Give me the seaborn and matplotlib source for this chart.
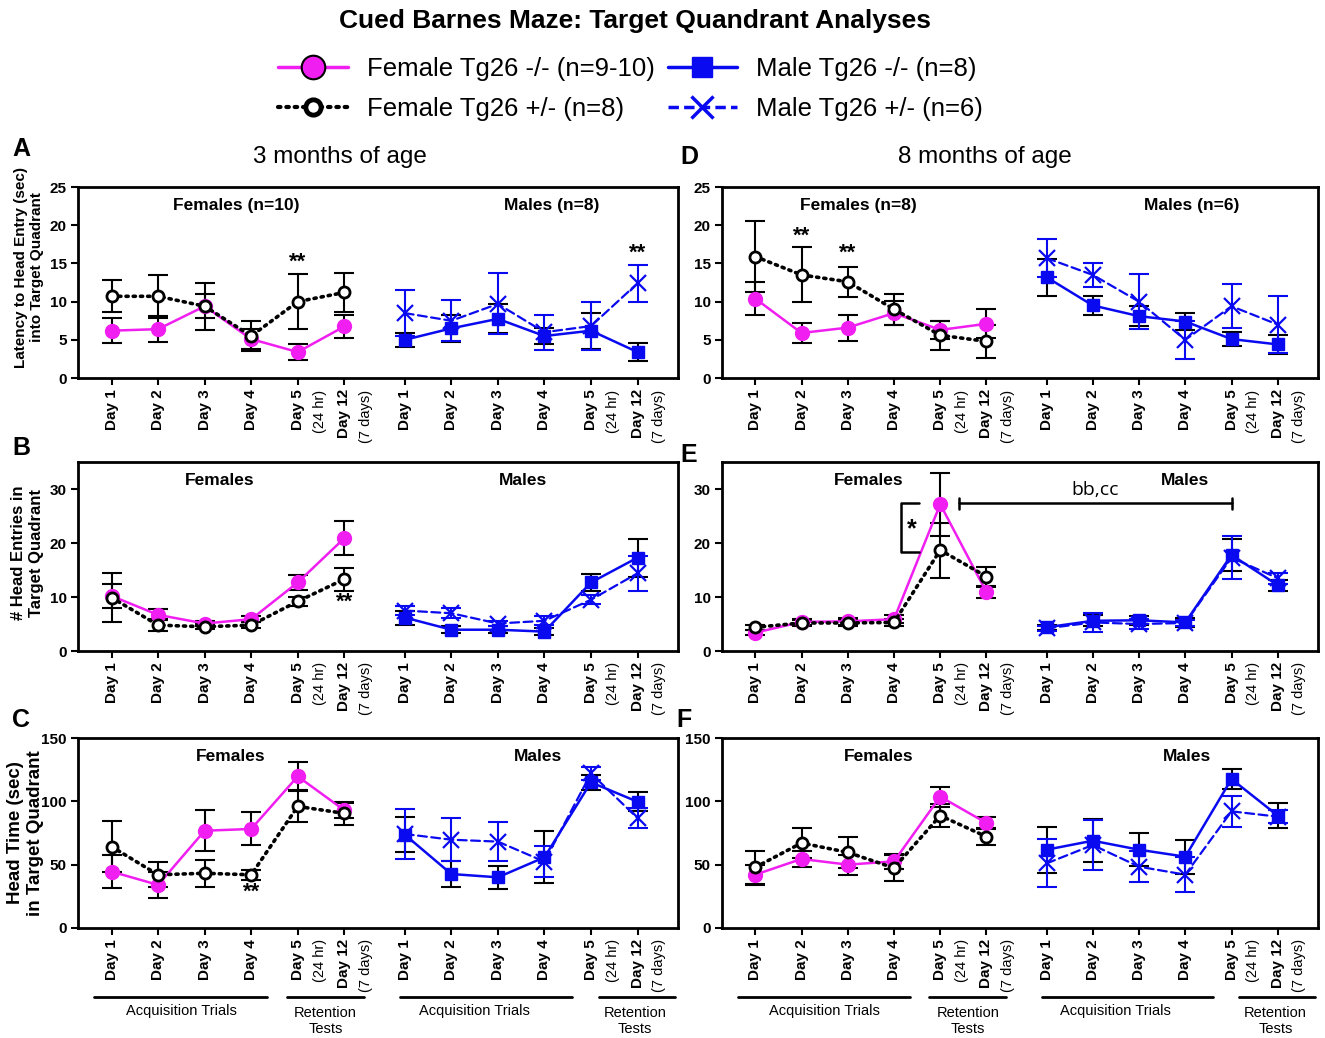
import numpy as np
import pandas as pd
import matplotlib
matplotlib.use("Agg")
import matplotlib.pyplot as plt
import matplotlib.transforms as mtransforms
from matplotlib.lines import Line2D
import seaborn as sns

sns.set_theme(style="ticks")
plt.rcParams['font.family'] = ['Liberation Sans', 'DejaVu Sans']
plt.rcParams.update({'text.color': 'black', 'axes.labelcolor': 'black',
                     'xtick.color': 'black', 'ytick.color': 'black'})

# ---------------- data ----------------
days = ['Day 1', 'Day 2', 'Day 3', 'Day 4', 'Day 5', 'Day 12']
day_notes = ['', '', '', '', '(24 hr)', '(7 days)']
groups = ['F -/-', 'F +/-', 'M -/-', 'M +/-']
legend_labels = ['Female Tg26 -/- (n=9-10)', 'Female Tg26 +/- (n=8)',
                 'Male Tg26 -/- (n=8)', 'Male Tg26 +/- (n=6)']

# Panel A: latency, 3 months
A_f_ko = [6.2, 6.4, 9.4, 5.1, 3.4, 6.75];   A_f_ko_sem = [1.6, 1.7, 1.6, 1.3, 1.1, 1.5]
A_f_het = [10.7, 10.7, 9.4, 5.5, 10.0, 11.2]; A_f_het_sem = [2.1, 2.8, 3.1, 2.0, 3.6, 2.6]
A_m_ko = [5.0, 6.5, 7.75, 5.5, 6.2, 3.4];   A_m_ko_sem = [0.95, 1.8, 1.9, 1.0, 2.35, 1.15]
A_m_het = [8.5, 7.5, 9.7, 6.0, 6.8, 12.4];  A_m_het_sem = [3.0, 2.7, 4.0, 2.3, 3.1, 2.4]
# Panel D: latency, 8 months
D_f_ko = [10.4, 5.9, 6.6, 8.5, 6.3, 7.1];   D_f_ko_sem = [2.2, 1.3, 1.7, 1.6, 1.2, 1.9]
D_f_het = [15.9, 13.5, 12.6, 9.0, 5.6, 4.8]; D_f_het_sem = [4.6, 3.6, 2.0, 2.0, 1.9, 2.2]
D_m_ko = [13.2, 9.5, 8.1, 7.4, 5.1, 4.4];   D_m_ko_sem = [2.4, 1.2, 1.3, 1.1, 0.9, 1.2]
D_m_het = [15.7, 13.5, 10.0, 5.0, 9.4, 7.0]; D_m_het_sem = [2.5, 1.6, 3.6, 2.5, 2.85, 3.7]
# Panel B: head entries, 3 months
B_f_ko = [10.2, 6.7, 5.1, 5.9, 12.7, 20.9];  B_f_ko_sem = [2.2, 1.0, 0.5, 0.6, 1.3, 3.2]
B_f_het = [9.9, 4.8, 4.5, 4.8, 9.2, 13.3];   B_f_het_sem = [4.5, 1.1, 0.5, 0.6, 0.8, 2.1]
B_m_ko = [6.2, 3.95, 3.95, 3.6, 12.7, 17.3]; B_m_ko_sem = [1.3, 0.7, 0.6, 0.7, 1.5, 3.5]
B_m_het = [7.5, 7.0, 5.1, 5.6, 9.5, 14.4];   B_m_het_sem = [0.8, 0.9, 0.5, 0.8, 0.8, 3.2]
# Panel E: head entries, 8 months
E_f_ko = [3.4, 5.4, 5.5, 5.9, 27.2, 10.9];   E_f_ko_sem = [0.5, 0.5, 0.6, 0.7, 5.8, 1.0]
E_f_het = [4.4, 5.2, 5.2, 5.3, 18.7, 13.8];  E_f_het_sem = [0.5, 0.5, 0.5, 0.6, 5.1, 1.7]
E_m_ko = [4.4, 5.6, 5.7, 5.3, 17.8, 12.2];   E_m_ko_sem = [0.5, 1.0, 0.8, 0.8, 3.0, 1.0]
E_m_het = [4.2, 5.3, 5.0, 5.2, 17.3, 13.5];  E_m_het_sem = [0.5, 1.8, 1.0, 0.6, 4.0, 1.0]
# Panel C: head time, 3 months
C_f_ko = [44.5, 34.0, 76.8, 78.2, 119.7, 93.0]; C_f_ko_sem = [13, 10, 16, 13, 11, 6]
C_f_het = [64.2, 42.0, 43.2, 42.0, 96.0, 90.5]; C_f_het_sem = [20, 10, 10.5, 4, 12, 9]
C_m_ko = [73.7, 42.6, 40.0, 55.8, 115.0, 99.7]; C_m_ko_sem = [14, 10.5, 9, 20.5, 6, 7.5]
C_m_het = [74.2, 69.7, 68.2, 52.4, 122.0, 86.8]; C_m_het_sem = [20, 17, 15.5, 12, 5, 8]
# Panel F: head time, 8 months
F_f_ko = [42.1, 54.5, 50.0, 52.6, 103.7, 82.9]; F_f_ko_sem = [8, 6, 8, 6, 8, 5]
F_f_het = [47.9, 67.1, 59.7, 47.4, 88.7, 72.1]; F_f_het_sem = [13, 12, 12, 10.5, 9, 6.5]
F_m_ko = [61.8, 68.9, 61.8, 56.3, 117.6, 88.7]; F_m_ko_sem = [18, 17, 13, 13.5, 8, 10]
F_m_het = [51.0, 65.5, 48.4, 42.1, 92.1, 87.9]; F_m_het_sem = [19, 20, 12, 14, 12.5, 5]

panels = {
    'A': [(A_f_ko, A_f_ko_sem), (A_f_het, A_f_het_sem), (A_m_ko, A_m_ko_sem), (A_m_het, A_m_het_sem)],
    'B': [(B_f_ko, B_f_ko_sem), (B_f_het, B_f_het_sem), (B_m_ko, B_m_ko_sem), (B_m_het, B_m_het_sem)],
    'C': [(C_f_ko, C_f_ko_sem), (C_f_het, C_f_het_sem), (C_m_ko, C_m_ko_sem), (C_m_het, C_m_het_sem)],
    'D': [(D_f_ko, D_f_ko_sem), (D_f_het, D_f_het_sem), (D_m_ko, D_m_ko_sem), (D_m_het, D_m_het_sem)],
    'E': [(E_f_ko, E_f_ko_sem), (E_f_het, E_f_het_sem), (E_m_ko, E_m_ko_sem), (E_m_het, E_m_het_sem)],
    'F': [(F_f_ko, F_f_ko_sem), (F_f_het, F_f_het_sem), (F_m_ko, F_m_ko_sem), (F_m_het, F_m_het_sem)],
}

male_offset = 6.3
rows = []
for p, series in panels.items():
    for g, (m, s) in zip(groups, series):
        off = male_offset if g.startswith('M') else 0.0
        for i, (mv, sv) in enumerate(zip(m, s)):
            rows.append(dict(panel=p, group=g, pos=i + off, mean=mv, sem=sv))
df = pd.DataFrame(rows)

MAG = '#F01EF0'
BLUE = '#0A0AF0'
styles = {
    'F -/-': dict(color=MAG, marker='o', markersize=10, markerfacecolor=MAG, markeredgecolor=MAG,
                  markeredgewidth=1, linestyle='-', linewidth=1.8, ecolor='black', z=3),
    'F +/-': dict(color='black', marker='o', markersize=8, markerfacecolor='white', markeredgecolor='black',
                  markeredgewidth=2, linestyle=(0, (0.6, 1.4)), linewidth=2.6, ecolor='black', z=4),
    'M -/-': dict(color=BLUE, marker='s', markersize=9, markerfacecolor=BLUE, markeredgecolor=BLUE,
                  markeredgewidth=1, linestyle='-', linewidth=1.8, ecolor='black', z=3),
    'M +/-': dict(color=BLUE, marker='x', markersize=11, markerfacecolor=BLUE, markeredgecolor=BLUE,
                  markeredgewidth=1.6, linestyle=(0, (4, 2)), linewidth=1.6, ecolor=BLUE, z=4),
}

# ---------------- layout ----------------
fig = plt.figure(figsize=(13.25, 10.38), dpi=100)
L1, W1, L2, W2 = 0.0589, 0.4528, 0.5449, 0.4498
axpos = {
    'A': [L1, 0.6358, W1, 0.184], 'D': [L2, 0.6358, W2, 0.184],
    'B': [L1, 0.3728, W1, 0.182], 'E': [L2, 0.3728, W2, 0.182],
    'C': [L1, 0.1060, W1, 0.183], 'F': [L2, 0.1060, W2, 0.183],
}
ylims = {'A': (0, 25), 'D': (0, 25), 'B': (0, 35), 'E': (0, 35), 'C': (0, 150), 'F': (0, 150)}
yticks = {'A': [0, 5, 10, 15, 20, 25], 'D': [0, 5, 10, 15, 20, 25],
          'B': [0, 10, 20, 30], 'E': [0, 10, 20, 30],
          'C': [0, 50, 100, 150], 'F': [0, 50, 100, 150]}
ylabels = {'A': 'Latency to Head Entry (sec)\ninto Target Quadrant',
           'B': '# Head Entries in\nTarget Quadrant',
           'C': 'Head Time (sec)\nin Target Quadrant'}
ylabel_size = {'A': 11, 'B': 12, 'C': 13.5}
ylabel_y = {'A': 0.58, 'B': 0.52, 'C': 0.5}
group_titles = {'A': ('Females (n=10)', 'Males (n=8)'), 'D': ('Females (n=8)', 'Males (n=6)'),
                'B': ('Females', 'Males'), 'E': ('Females', 'Males'),
                'C': ('Females', 'Males'), 'F': ('Females', 'Males')}
group_title_x = {'A': (2.68, 9.46), 'D': (2.22, 9.44), 'B': (2.33, 8.83),
                 'E': (2.46, 9.3), 'C': (2.55, 9.16), 'F': (2.66, 9.33)}
stars = {'A': [(4, 15.1), (6.3 + 5, 16.4)], 'D': [(1, 18.6), (2, 16.4)],
         'B': [(5, 9.0)], 'C': [(3, 28.0)], 'E': [], 'F': []}

positions = [i for i in range(6)] + [i + male_offset for i in range(6)]
tick_labels = days + days

axes = {}
for p in ['A', 'B', 'C', 'D', 'E', 'F']:
    ax = fig.add_axes(axpos[p])
    axes[p] = ax
    sub = df[df.panel == p]
    for g in groups:
        st = styles[g]
        d = sub[sub.group == g]
        ax.errorbar(d['pos'], d['mean'], yerr=d['sem'], fmt='none', ecolor=st['ecolor'],
                    elinewidth=1.5, capsize=7, capthick=1.5, zorder=2)
        kw = {k: v for k, v in st.items() if k not in ('ecolor', 'z')}
        sns.lineplot(data=d, x='pos', y='mean', ax=ax, legend=False, zorder=st['z'],
                     dash_capstyle='round', **kw)
    ax.set_xlim(-0.72, 12.17)
    ax.set_ylim(*ylims[p])
    ax.set_yticks(yticks[p])
    ax.set_yticklabels([str(t) for t in yticks[p]], fontweight='bold', fontsize=11)
    ax.set_xticks(positions)
    ax.set_xticklabels(tick_labels, rotation=90, fontweight='bold', fontsize=11)
    ax.tick_params(axis='both', direction='out', length=5, width=1.5, color='black', pad=3)
    for sp in ax.spines.values():
        sp.set_linewidth(2)
        sp.set_color('black')
    ax.set_xlabel('')
    if p in ylabels:
        ax.set_ylabel(ylabels[p], fontweight='bold', fontsize=ylabel_size[p])
        ax.yaxis.set_label_coords(-0.057, ylabel_y[p])
    else:
        ax.set_ylabel('')
    trans = mtransforms.blended_transform_factory(ax.transData, ax.transAxes)
    for pos, note in zip(positions, day_notes + day_notes):
        if note:
            ax.text(pos + 0.47, -0.06, note, rotation=90, ha='center', va='top',
                    fontsize=10.5, transform=trans)
    ft, mt = group_titles[p]
    fx, mx = group_title_x[p]
    ax.text(fx, 0.905, ft, ha='center', va='center', fontweight='bold', fontsize=12.5, transform=trans)
    ax.text(mx, 0.905, mt, ha='center', va='center', fontweight='bold', fontsize=12.5, transform=trans)
    for sx, sy in stars[p]:
        ax.text(sx, sy, '**', ha='center', va='center', fontweight='bold', fontsize=16)
    if p in ('C', 'F'):
        for (x0, x1) in [(-0.37, 3.35), (3.76, 5.42), (6.2, 9.9), (10.47, 12.1)]:
            ax.plot([x0, x1], [-0.363, -0.363], color='black', lw=2, transform=trans, clip_on=False)
        ax.text(1.5, -0.437, 'Acquisition Trials', ha='center', va='center', fontsize=10.5, transform=trans)
        ax.text(4.6, -0.49, 'Retention\nTests', ha='center', va='center', fontsize=10.5,
                transform=trans, linespacing=1.1)
        ax.text(male_offset + 1.5, -0.437, 'Acquisition Trials', ha='center', va='center', fontsize=10.5, transform=trans)
        ax.text(male_offset + 4.95, -0.49, 'Retention\nTests', ha='center', va='center', fontsize=10.5,
                transform=trans, linespacing=1.1)

# Panel E annotations
axE = axes['E']
axE.plot([3.55, 3.15, 3.15, 3.55], [27.4, 27.4, 18.4, 18.4], color='black', lw=1.8, zorder=5)
axE.text(3.38, 22.6, '*', ha='center', va='center', fontweight='bold', fontsize=18)
axE.plot([4.4, male_offset + 4], [27.4, 27.4], color='black', lw=1.8)
axE.plot([4.4, 4.4], [26.4, 28.4], color='black', lw=1.8)
axE.plot([male_offset + 4, male_offset + 4], [26.4, 28.4], color='black', lw=1.8)
axE.text(7.35, 29.8, 'bb,cc', ha='center', va='center', fontsize=14, family=['Open Sans', 'DejaVu Sans'])

# Figure texts
fig.text(0.479, 0.980, 'Cued Barnes Maze: Target Quandrant Analyses', ha='center', va='center',
         fontweight='bold', fontsize=19)
fig.text(0.2566, 0.8487, '3 months of age', ha='center', va='center', fontsize=17.5)
fig.text(0.7434, 0.8487, '8 months of age', ha='center', va='center', fontsize=17.5)
for lab, (x, y) in {'A': (0.016, 0.856), 'B': (0.016, 0.568), 'C': (0.016, 0.306),
                    'D': (0.520, 0.849), 'E': (0.520, 0.562), 'F': (0.516, 0.306)}.items():
    fig.text(x, y, lab, ha='center', va='center', fontweight='bold', fontsize=18)

handles = [
    Line2D([], [], color=MAG, marker='o', markersize=17, markerfacecolor=MAG, markeredgecolor='black',
           markeredgewidth=1.5, lw=2.5),
    Line2D([], [], color='black', ls=(0, (0.6, 1.4)), lw=3, marker='o', markersize=11,
           markerfacecolor='white', markeredgecolor='black', markeredgewidth=3.5, dash_capstyle='round'),
    Line2D([], [], color=BLUE, marker='s', markersize=14, markerfacecolor=BLUE, markeredgecolor=BLUE, lw=2.5),
    Line2D([], [], color=BLUE, ls=(0, (3, 1.5)), marker='x', markersize=16, markeredgewidth=2.5, lw=2.5),
]
fig.legend(handles, legend_labels, ncol=2, loc='center', bbox_to_anchor=(0.476, 0.914), frameon=False,
           fontsize=18.5, handlelength=2.7, columnspacing=0.5, labelspacing=0.62, handletextpad=0.75)

fig.savefig('out.png', dpi=100)
